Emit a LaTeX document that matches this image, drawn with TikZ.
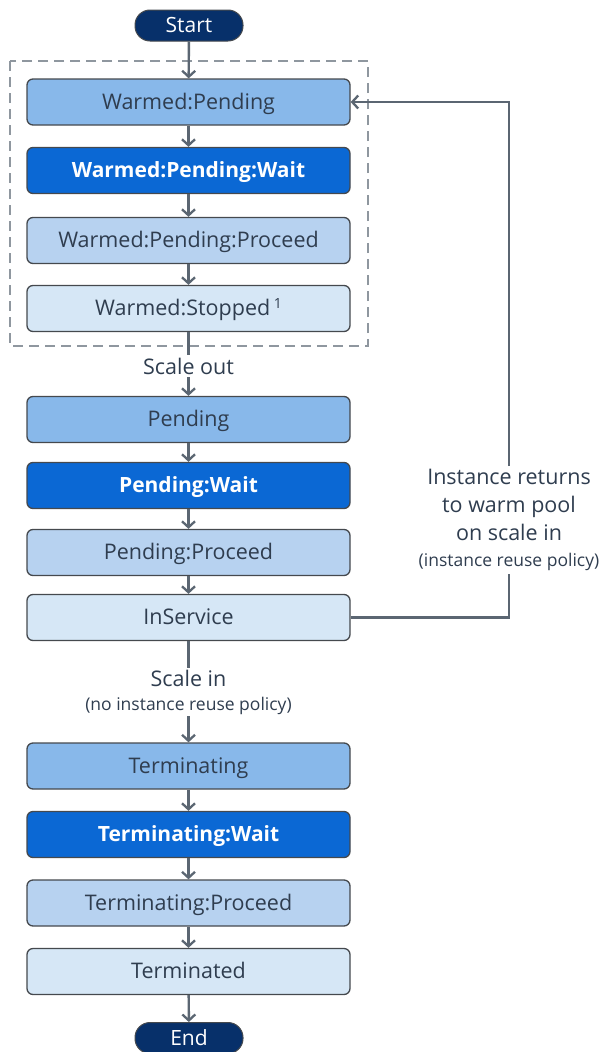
\documentclass[tikz,border=0pt]{standalone}
\usepackage{fontspec}
\setmainfont{Open Sans}
\usetikzlibrary{arrows.meta}
\definecolor{cA}{HTML}{88B8EA}
\definecolor{cB}{HTML}{0B68D4}
\definecolor{cC}{HTML}{B7D2F0}
\definecolor{cD}{HTML}{D6E7F6}
\definecolor{navy}{HTML}{07306A}
\definecolor{txt}{HTML}{2F3D4F}
\definecolor{ln}{HTML}{5B6672}
\definecolor{bd}{HTML}{45494E}
\definecolor{dsh}{HTML}{8F979F}
\tikzset{
  box/.style={draw=bd, line width=1.3pt, rounded corners=6pt, minimum width=323pt, minimum height=46pt, inner sep=0pt, text height=16pt, text depth=2pt, text=txt, font=\fontsize{21.5}{26}\selectfont},
  lvA/.style={box, fill=cA},
  lvB/.style={box, fill=cB, text=white, font=\fontsize{21}{26}\selectfont\bfseries},
  lvC/.style={box, fill=cC},
  lvD/.style={box, fill=cD},
  pill/.style={draw=bd, line width=1pt, fill=navy, rounded corners=15pt, minimum width=108pt, minimum height=31pt, inner sep=0pt, text height=16pt, text depth=2pt, text=white, font=\fontsize{21}{24}\selectfont},
  conn/.style={draw=ln, line width=2.4pt},
  arr/.style={conn, -{Straight Barb[length=6pt, width=13pt, line width=2.3pt]}},
  lbl/.style={text=txt, align=center, inner sep=3pt, font=\fontsize{21.5}{28}\selectfont},
}
\newcommand{\smalltxt}{\fontsize{17.5}{20}\selectfont}
\begin{document}
\begin{tikzpicture}[x=1pt, y=-1pt]
\useasboundingbox (0,0) rectangle (610,1052);
\draw[dsh, line width=2.2pt, dash pattern=on 10pt off 6pt] (10,61) rectangle (368,346);

\node[pill] (start) at (189,25.5) {Start};
\node[lvA] (wp) at (188.5,102) {Warmed:Pending};
\node[lvB] (wpw) at (188.5,170.5) {Warmed:Pending:Wait};
\node[lvC] (wpp) at (188.5,240.5) {Warmed:Pending:Proceed};
\node[lvD] (ws) at (188.5,308.5) {Warmed:Stopped\,\raisebox{0.6ex}{\fontsize{14}{16}\selectfont 1}};
\node[lbl] (so) at (188.5,366) {Scale out};
\node[lvA] (p) at (188.5,419.5) {Pending};
\node[lvB] (pw) at (188.5,485.5) {Pending:Wait};
\node[lvC] (pp) at (188.5,552.5) {Pending:Proceed};
\node[lvD] (is) at (188.5,617.5) {InService};
\node[lbl, inner sep=2pt] (si) at (188.5,692) {Scale in\\[-4pt]{\smalltxt (no instance reuse policy)}};
\node[lvA] (t) at (188.5,766) {Terminating};
\node[lvB] (tw) at (188.5,834.5) {Terminating:Wait};
\node[lvC] (tp) at (188.5,903) {Terminating:Proceed};
\node[lvD] (td) at (188.5,971.5) {Terminated};
\node[pill] (end) at (189,1038) {End};
\node[lbl, inner sep=3pt] (ret) at (509,520) {Instance returns\\to warm pool\\on scale in\\[-2pt]{\smalltxt (instance reuse policy)}};

\draw[arr] (start) -- (wp);
\draw[arr] (wp) -- (wpw);
\draw[arr] (wpw) -- (wpp);
\draw[arr] (wpp) -- (ws);
\draw[conn] (ws) -- (so);
\draw[arr] (so) -- (p);
\draw[arr] (p) -- (pw);
\draw[arr] (pw) -- (pp);
\draw[arr] (pp) -- (is);
\draw[conn] (is) -- (si);
\draw[arr] (si) -- (t);
\draw[arr] (t) -- (tw);
\draw[arr] (tw) -- (tp);
\draw[arr] (tp) -- (td);
\draw[arr] (td) -- (end);
\draw[conn] (is.east) -| (ret.south);
\draw[arr] (ret.north) |- (wp.east);
\end{tikzpicture}
\end{document}
